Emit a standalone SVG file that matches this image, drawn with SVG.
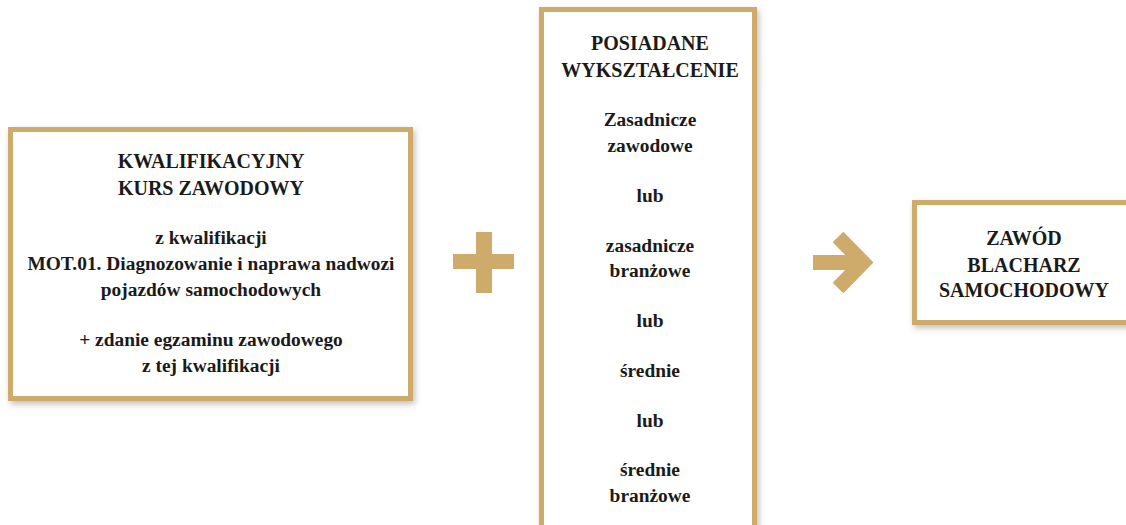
<svg xmlns="http://www.w3.org/2000/svg" width="1126" height="525" viewBox="0 0 1126 525">
<style>
.box{fill:#fff;stroke:#cfab6b;stroke-width:5;filter:url(#sh)}
.t{font-family:'Liberation Serif','Times New Roman','DejaVu Serif',serif;font-weight:700;font-size:20px;fill:#1a1a1a;text-anchor:middle}
.s{font-size:19.4px}
.gold{fill:#cfab6b}
</style>
<defs>
<filter id="sh" x="-10%" y="-10%" width="130%" height="130%">
<feDropShadow dx="2" dy="3" stdDeviation="3" flood-color="#000" flood-opacity="0.25"/>
</filter>
</defs>
<rect width="1126" height="525" fill="#fff"/>
<g id="kurs">
<rect class="box" x="10.5" y="129.5" width="400" height="269"/>
<text class="t" x="211" y="168">KWALIFIKACYJNY</text>
<text class="t" x="211" y="195">KURS ZAWODOWY</text>
<text class="t s" x="211" y="244">z kwalifikacji</text>
<text class="t s" x="211" y="270">MOT.01. Diagnozowanie i naprawa nadwozi</text>
<text class="t s" x="211" y="296">pojazdów samochodowych</text>
<text class="t s" x="211" y="346">+ zdanie egzaminu zawodowego</text>
<text class="t s" x="211" y="372">z tej kwalifikacji</text>
</g>
<g id="wyksztalcenie">
<rect class="box" x="541.5" y="9.5" width="213" height="540"/>
<text class="t" x="650" y="50">POSIADANE</text>
<text class="t" x="650" y="77">WYKSZTAŁCENIE</text>
<text class="t s" x="650" y="126">Zasadnicze</text>
<text class="t s" x="650" y="152">zawodowe</text>
<text class="t s" x="650" y="202">lub</text>
<text class="t s" x="650" y="252">zasadnicze</text>
<text class="t s" x="650" y="277">branżowe</text>
<text class="t s" x="650" y="327">lub</text>
<text class="t s" x="650" y="377">średnie</text>
<text class="t s" x="650" y="427">lub</text>
<text class="t s" x="650" y="476">średnie</text>
<text class="t s" x="650" y="502">branżowe</text>
</g>
<g id="zawod">
<rect class="box" x="914.5" y="202.5" width="230" height="120"/>
<text class="t" x="1024" y="245">ZAWÓD</text>
<text class="t" x="1024" y="272">BLACHARZ</text>
<text class="t" x="1024" y="297">SAMOCHODOWY</text>
</g>
<g id="connectors">
<g id="plus" class="gold">
<rect x="476" y="232" width="16" height="61"/>
<rect x="453" y="254" width="61" height="15"/>
</g>
<g id="arrow">
<rect class="gold" x="813" y="255" width="48" height="15"/>
<polyline points="838,237 863,262.5 838,288" fill="none" stroke="#cfab6b" stroke-width="15" stroke-linejoin="miter"/>
</g>
</g>
</svg>
